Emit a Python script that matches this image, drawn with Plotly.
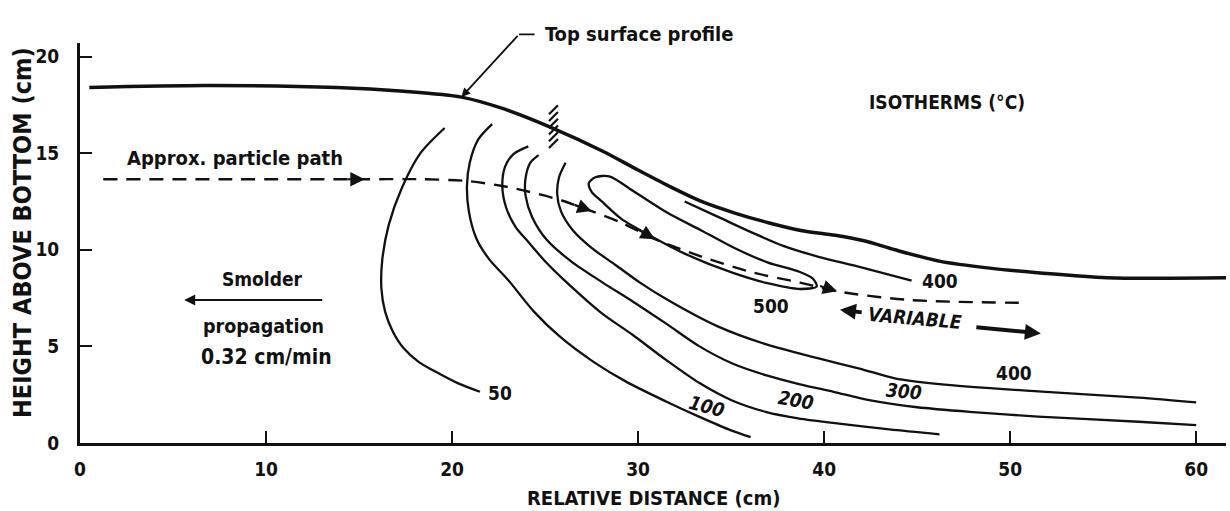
import plotly.graph_objects as go

# ---------------- data (cm) ----------------
top_x = [0.5, 6.7, 13.8, 17.4, 20.5, 22.75, 25.4, 28.1, 29.85, 31.65, 33.4, 35.2, 37.0, 38.75, 40.6, 42.2, 43.8, 46.25, 48.9, 51.6, 55.2, 61.8]
top_y = [18.4, 18.5, 18.4, 18.2, 17.9, 17.3, 16.3, 15.1, 14.2, 13.3, 12.5, 11.9, 11.4, 11.0, 10.75, 10.45, 10.0, 9.4, 9.05, 8.8, 8.55, 8.55]

path_x = [1.25, 8.2, 15.3, 18.4, 20.9, 22.7, 24.15, 25.9, 27.5, 29.1, 30.9, 33.4, 36.05, 38.7, 40.7, 44.6, 50.9]
path_y = [13.65, 13.65, 13.65, 13.65, 13.55, 13.3, 13.0, 12.55, 12.0, 11.4, 10.55, 9.65, 8.85, 8.3, 7.85, 7.4, 7.25]

iso50_x = [19.6, 18.3, 17.3, 16.6, 16.25, 16.2, 16.4, 16.8, 17.4, 18.2, 19.0, 20.3, 21.5]
iso50_y = [16.3, 15.0, 13.2, 11.3, 9.5, 8.0, 6.8, 5.8, 4.9, 4.2, 3.75, 3.1, 2.65]

iso100_x = [22.15, 21.4, 20.95, 20.8, 20.9, 21.3, 22.0, 23.0, 24.4, 25.8, 27.6, 29.4, 31.5, 33.3, 35.0, 36.05]
iso100_y = [16.5, 15.7, 14.5, 13.3, 12.0, 10.6, 9.5, 8.45, 6.8, 5.5, 4.2, 3.15, 2.15, 1.35, 0.65, 0.3]

iso200_x = [24.1, 23.3, 22.85, 22.7, 22.9, 23.4, 24.1, 25.05, 26.0, 28.0, 29.7, 31.5, 33.3, 35.05, 36.9, 38.6, 40.8, 43.5, 46.2]
iso200_y = [15.35, 14.95, 14.3, 13.3, 12.2, 11.2, 10.4, 9.35, 8.45, 6.75, 5.6, 4.3, 3.1, 2.2, 1.6, 1.28, 1.0, 0.7, 0.45]

iso300_x = [24.65, 24.2, 23.95, 23.95, 24.3, 25.1, 26.4, 28.1, 29.75, 31.55, 33.3, 35.1, 36.9, 38.65, 40.5, 42.5, 45.0, 48.0, 51.5, 56.9, 60.0]
iso300_y = [14.9, 14.5, 13.7, 12.8, 11.7, 10.5, 9.4, 8.3, 7.3, 6.15, 5.0, 4.1, 3.5, 3.05, 2.65, 2.2, 1.85, 1.6, 1.37, 1.1, 0.93]

iso400_x = [26.1, 25.75, 25.65, 25.85, 26.5, 27.5, 28.8, 30.1, 31.6, 34.25, 36.9, 39.6, 41.9, 43.8, 46.2, 51.5, 56.9, 60.0]
iso400_y = [14.5, 13.75, 12.9, 12.0, 11.0, 10.1, 9.2, 8.3, 7.4, 6.05, 5.1, 4.4, 3.85, 3.35, 3.05, 2.67, 2.35, 2.1]

iso500_x = [27.35, 27.7, 28.45, 29.8, 31.6, 33.4, 35.15, 36.95, 38.7, 39.4, 39.6, 38.7, 36.95, 35.1, 32.5, 30.7, 29.1, 28.05, 27.5, 27.35]
iso500_y = [13.45, 13.75, 13.8, 13.0, 11.9, 11.0, 10.1, 9.35, 8.85, 8.5, 8.1, 7.97, 8.27, 8.8, 9.8, 10.7, 11.6, 12.5, 13.0, 13.45]

iso400u_x = [32.5, 34.3, 36.1, 37.8, 39.65, 41.95, 44.7]
iso400u_y = [12.5, 11.7, 10.9, 10.2, 9.65, 9.1, 8.4]

iso_labels = ["50", "100", "200", "300", "400", "500", "400"]
iso_label_x = [22.6, 33.7, 38.5, 44.3, 50.2, 37.15, 46.2]
iso_label_y = [2.6, 1.9, 2.2, 2.67, 3.6, 7.1, 8.4]
iso_label_angle = [0, 15, 10, 5, 0, 0, 0]
iso_label_italic = [False, True, True, True, False, False, False]

mark_x = [25.45] * 6
mark_y = [15.5, 15.85, 16.2, 16.55, 16.9, 17.25]

x_ticks = [0, 10, 20, 30, 40, 50, 60]
y_ticks = [0, 5, 10, 15, 20]

X_MAX, Y_MAX = 61.6, 20.7

FONT = "Liberation Sans Narrow, DejaVu Sans Condensed, Arial Narrow, sans-serif"
INK = "#111111"

fig = go.Figure()

def add_line(x, y, width=2.3, dash="solid"):
    fig.add_trace(go.Scatter(x=x, y=y, mode="lines",
                             line=dict(color=INK, width=width, dash=dash, shape="spline", smoothing=0.8),
                             hoverinfo="skip", showlegend=False))

add_line(top_x, top_y, width=3.5)
add_line(path_x, path_y, width=2.4, dash="14px,9px")
for xs, ys in [(iso50_x, iso50_y), (iso100_x, iso100_y), (iso200_x, iso200_y),
               (iso300_x, iso300_y), (iso400_x, iso400_y), (iso500_x, iso500_y),
               (iso400u_x, iso400u_y)]:
    add_line(xs, ys)

fig.add_trace(go.Scatter(x=mark_x, y=mark_y, mode="markers",
                         marker=dict(symbol="line-ne", size=9, line=dict(color=INK, width=2.2)),
                         hoverinfo="skip", showlegend=False))

ann = []
def text(t, x, y, size=19, angle=0, italic=False, xanchor="center", ref="data"):
    d = dict(text=t, x=x, y=y, showarrow=False, textangle=angle, xanchor=xanchor, yanchor="middle",
             font=dict(family=FONT, size=size, color=INK, weight="bold",
                       style="italic" if italic else "normal"))
    if ref == "data":
        d.update(xref="x", yref="y")
    else:
        d.update(xref="paper", yref="paper", x=x / X_MAX, y=y / Y_MAX)
    ann.append(d)

def arrow(x, y, ax, ay, width=2.0, head=2, size=1.0):
    ann.append(dict(text="", x=x, y=y, ax=ax, ay=ay, xref="x", yref="y", axref="x", ayref="y",
                    showarrow=True, arrowhead=head, arrowwidth=width, arrowsize=size,
                    arrowcolor=INK, standoff=0, startstandoff=0))

for t, x, y, a, it in zip(iso_labels, iso_label_x, iso_label_y, iso_label_angle, iso_label_italic):
    text(t, x, y, size=19, angle=a, italic=it)

text("Approx. particle path", 8.35, 14.75, size=20)
text("ISOTHERMS (°C)", 46.6, 17.65, size=19)
text("Smolder", 9.8, 8.5, size=19)
text("propagation", 9.85, 6.05, size=19.5)
text("0.32 cm/min", 10.0, 4.45, size=21)
text("VARIABLE", 44.9, 6.45, size=19, angle=5, italic=True)
# callout above the plot area (paper coordinates so it is not hidden)
text("Top surface profile", 24.9, 21.15, size=20, xanchor="left", ref="paper")
ann.append(dict(text="", x=23.6 / X_MAX, y=21.15 / Y_MAX, xref="paper", yref="paper",
                ax=17, ay=0, axref="pixel", ayref="pixel", showarrow=True, arrowhead=0,
                arrowwidth=1.8, arrowcolor=INK, standoff=0, startstandoff=0))

# arrows
arrow(5.6, 7.4, 13.1, 7.4, width=2.2)              # smolder propagation
arrow(40.85, 6.9, 42.1, 6.75, width=4, size=0.8)   # variable left
arrow(51.65, 5.67, 48.1, 6.0, width=4, size=0.8)   # variable right
arrow(20.5, 17.9, 23.6, 21.15, width=1.8)          # top surface leader
# arrowheads on particle path
arrow(15.3, 13.65, 14.3, 13.65, width=2.2, size=1.3)
arrow(27.5, 12.0, 26.5, 12.35, width=2.2, size=1.3)
arrow(30.9, 10.55, 29.9, 11.1, width=2.2, size=1.3)
arrow(40.7, 7.85, 39.7, 8.15, width=2.2, size=1.3)

# axis titles
ann.append(dict(text="RELATIVE DISTANCE (cm)", x=0.5, y=0, xref="paper", yref="paper",
                yanchor="top", yshift=-41, showarrow=False,
                font=dict(family=FONT, size=20, color=INK, weight="bold")))
ann.append(dict(text="HEIGHT ABOVE BOTTOM (cm)", x=0, y=0.5, xref="paper", yref="paper",
                xanchor="center", xshift=-58, yshift=10, textangle=-90, showarrow=False,
                font=dict(family=FONT, size=25, color=INK, weight="bold")))

axis_font = dict(family=FONT, size=19, color=INK, weight="bold")
fig.update_layout(
    width=1230, height=511,
    margin=dict(l=80, r=4, t=43, b=68),
    paper_bgcolor="white", plot_bgcolor="white",
    showlegend=False,
    annotations=ann,
    xaxis=dict(range=[0, X_MAX], tickvals=x_ticks, ticktext=[str(v) for v in x_ticks],
               showline=True, linewidth=3, linecolor=INK, ticks="inside", ticklen=12,
               tickwidth=2, tickcolor=INK, showgrid=False, zeroline=False,
               tickfont=axis_font, ticklabelstandoff=7),
    yaxis=dict(range=[0, Y_MAX], tickvals=y_ticks, ticktext=[str(v) for v in y_ticks],
               showline=True, linewidth=3, linecolor=INK, ticks="inside", ticklen=12,
               tickwidth=2, tickcolor=INK, showgrid=False, zeroline=False,
               tickfont=axis_font, ticklabelstandoff=14),
)

fig.write_html("out.html", config={"displayModeBar": False},
               post_script="document.body.style.margin='0px';")
